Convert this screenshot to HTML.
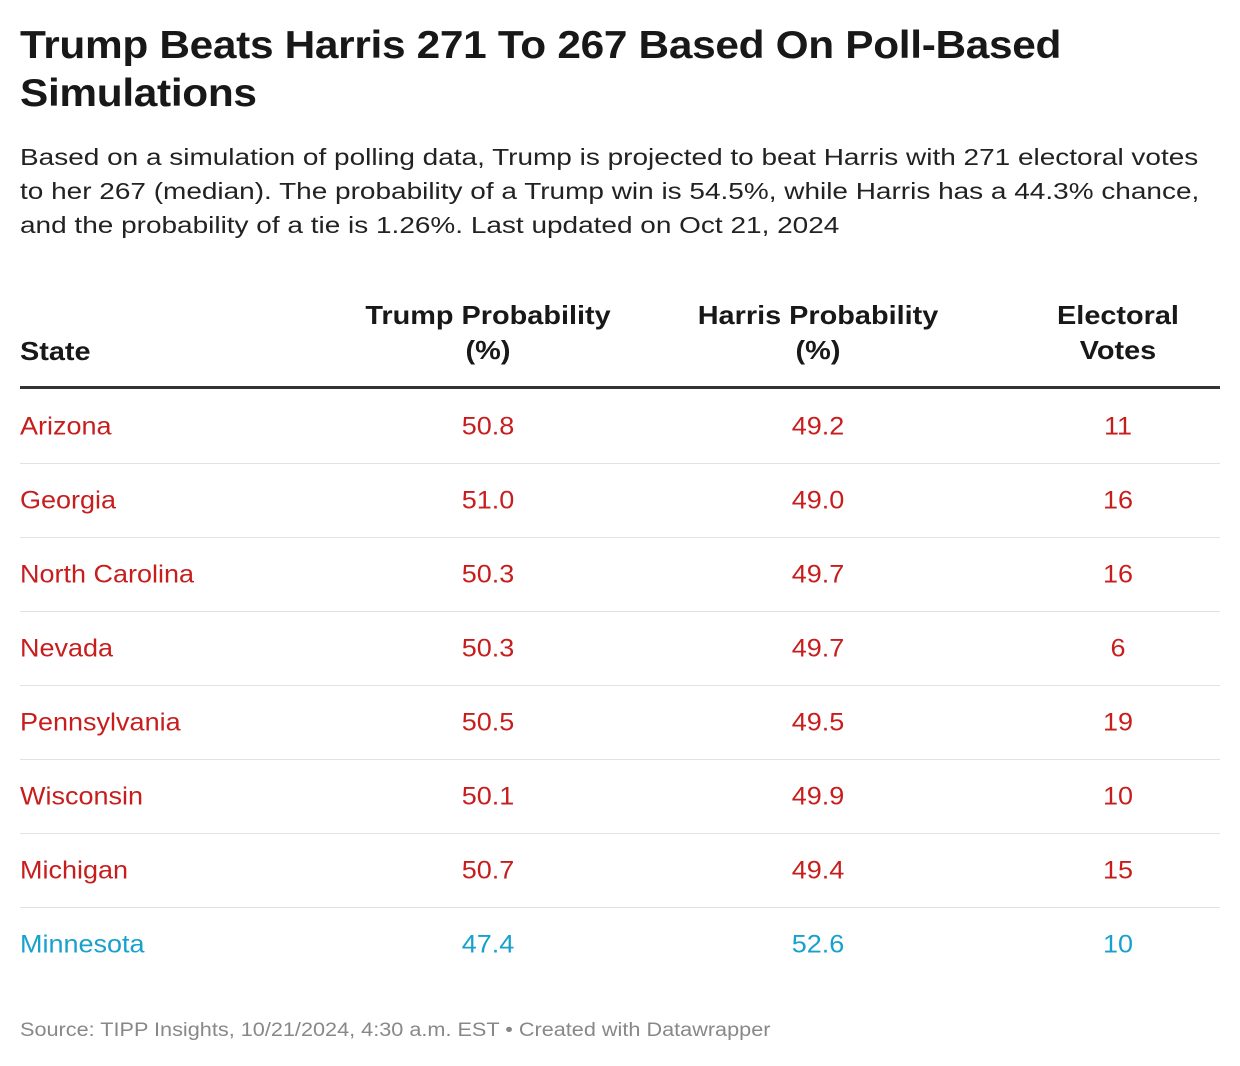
<!DOCTYPE html>
<html><head><meta charset="utf-8"><style>
body{margin:0;width:1240px;height:1066px;background:#fff;font-family:"Liberation Sans",sans-serif;position:relative;overflow:hidden;color:#181818}
.a{position:absolute;white-space:nowrap}
h1{position:absolute;left:20px;top:22px;margin:0;font-size:39px;line-height:48px;font-weight:bold;letter-spacing:-0.3px;white-space:nowrap;transform:scaleX(1.087);transform-origin:0 0}
.sub{left:20px;top:140px;font-size:23.5px;line-height:34px;color:#222;transform:scaleX(1.19);transform-origin:0 0}
.th{font-weight:bold;font-size:26px;line-height:35px;text-align:center;transform:translateX(-50%) scaleX(1.11)}
.rule{position:absolute;left:20px;width:1200px}
.c{position:absolute;font-size:25px;transform:translate(-50%,-50%) scaleX(1.08);white-space:nowrap}
.s{position:absolute;left:20px;font-size:25px;transform:translateY(-50%) scaleX(1.08);transform-origin:0 50%;white-space:nowrap}
.foot{left:20px;top:1020px;font-size:19px;color:#888;transform:scaleX(1.14);transform-origin:0 0}
</style></head><body>
<h1>Trump Beats Harris 271 To 267 Based On Poll-Based<br>Simulations</h1>
<div class="a sub">Based on a simulation of polling data, Trump is projected to beat Harris with 271 electoral votes<br>to her 267 (median). The probability of a Trump win is 54.5%, while Harris has a 44.3% chance,<br>and the probability of a tie is 1.26%. Last updated on Oct 21, 2024</div>
<div class="a" style="left:20px;top:334px;font-weight:bold;font-size:26px;line-height:35px;transform:scaleX(1.11);transform-origin:0 0">State</div>
<div class="a th" style="left:488px;top:298px">Trump Probability<br>(%)</div>
<div class="a th" style="left:818px;top:298px">Harris Probability<br>(%)</div>
<div class="a th" style="left:1118px;top:298px">Electoral<br>Votes</div>
<div class="rule" style="top:386px;height:3px;background:#333"></div>
<div id="tbl"></div>
<div class="a foot">Source: TIPP Insights, 10/21/2024, 4:30 a.m. EST • Created with Datawrapper</div>
<script>
const states=["Arizona","Georgia","North Carolina","Nevada","Pennsylvania","Wisconsin","Michigan","Minnesota"];
const trump=["50.8","51.0","50.3","50.3","50.5","50.1","50.7","47.4"];
const harris=["49.2","49.0","49.7","49.7","49.5","49.9","49.4","52.6"];
const votes=["11","16","16","6","19","10","15","10"];
const tb=document.getElementById('tbl');
states.forEach((s,i)=>{
  const y=427+i*74;
  const col=parseFloat(trump[i])>parseFloat(harris[i])?'#c71e1d':'#18a1cd';
  const st=document.createElement('div');st.className='s';st.style.top=y+'px';st.style.color=col;st.textContent=s;
  
  
  tb.appendChild(st);
  [[488,trump[i],'trump-probability'],[818,harris[i],'harris-probability'],[1118,votes[i],'electoral-votes']].forEach(([x,v,n])=>{
    const d=document.createElement('div');d.className='c';d.style.left=x+'px';d.style.top=y+'px';d.style.color=col;d.textContent=v;
    
    
    tb.appendChild(d);
  });
  if(i<states.length-1){
    const r=document.createElement('div');r.className='rule';r.style.top=(y+36)+'px';r.style.height='1px';r.style.background='#e2e2e2';
    
    
    tb.appendChild(r);
  }
});
</script>
</body></html>
